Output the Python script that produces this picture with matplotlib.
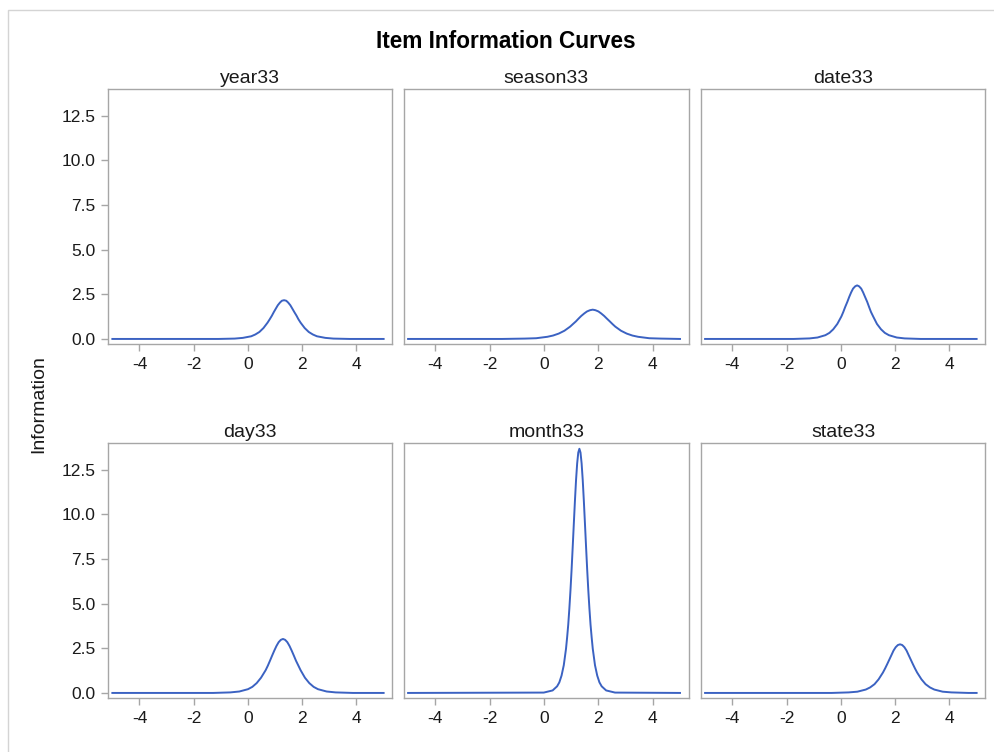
import matplotlib
matplotlib.use("Agg")
import matplotlib.pyplot as plt
from matplotlib.patches import Rectangle

plt.rcParams['font.family'] = ['Liberation Sans', 'DejaVu Sans']

# item information curves
items = ['year33', 'season33', 'date33', 'day33', 'month33', 'state33']

year33_x = [-5, -1.09, -0.49, -0.19, 0.12, 0.27, 0.42, 0.57, 0.72, 0.80, 0.88, 0.95, 1.03,
            1.10, 1.18, 1.25, 1.33, 1.41, 1.48, 1.56, 1.63, 1.71, 1.79, 1.86, 1.94, 2.09,
            2.24, 2.39, 2.54, 2.85, 3.15, 3.75, 5]
year33_y = [0.00, 0.00, 0.02, 0.06, 0.15, 0.25, 0.39, 0.61, 0.91, 1.10, 1.30, 1.50, 1.71,
            1.89, 2.04, 2.14, 2.17, 2.14, 2.04, 1.89, 1.71, 1.50, 1.30, 1.10, 0.91, 0.61,
            0.39, 0.25, 0.15, 0.06, 0.02, 0.00, 0.00]

season33_x = [-5, -1.54, -0.71, -0.29, 0.12, 0.33, 0.54, 0.75, 0.96, 1.06, 1.17, 1.27, 1.37,
              1.48, 1.58, 1.69, 1.79, 1.89, 2.00, 2.10, 2.21, 2.31, 2.42, 2.52, 2.62, 2.83,
              3.04, 3.25, 3.46, 3.87, 4.29, 5]
season33_y = [0.00, 0.00, 0.02, 0.04, 0.12, 0.19, 0.30, 0.46, 0.69, 0.83, 0.98, 1.14, 1.29,
              1.43, 1.54, 1.61, 1.64, 1.61, 1.54, 1.43, 1.29, 1.14, 0.98, 0.83, 0.69, 0.46,
              0.30, 0.19, 0.12, 0.04, 0.02, 0.00]

date33_x = [-5, -1.74, -1.15, -0.86, -0.57, -0.42, -0.28, -0.13, 0.02, 0.09, 0.16, 0.24, 0.31,
            0.38, 0.45, 0.53, 0.60, 0.67, 0.75, 0.82, 0.89, 0.97, 1.04, 1.11, 1.19, 1.33,
            1.48, 1.62, 1.77, 2.06, 2.35, 2.94, 5]
date33_y = [0.00, 0.00, 0.03, 0.08, 0.21, 0.34, 0.54, 0.84, 1.26, 1.51, 1.79, 2.08, 2.36,
            2.61, 2.82, 2.95, 3.00, 2.95, 2.82, 2.61, 2.36, 2.08, 1.79, 1.51, 1.26, 0.84,
            0.54, 0.34, 0.21, 0.08, 0.03, 0.00, 0.00]

day33_x = [-5, -1.29, -0.65, -0.32, 0.00, 0.16, 0.32, 0.48, 0.65, 0.73, 0.81, 0.89, 0.97,
           1.05, 1.13, 1.21, 1.29, 1.37, 1.45, 1.53, 1.61, 1.69, 1.77, 1.86, 1.94, 2.10,
           2.26, 2.42, 2.58, 2.90, 3.23, 3.87, 5]
day33_y = [0.00, 0.00, 0.03, 0.08, 0.21, 0.34, 0.55, 0.85, 1.27, 1.52, 1.80, 2.09, 2.37,
           2.63, 2.84, 2.97, 3.02, 2.97, 2.84, 2.63, 2.37, 2.09, 1.80, 1.52, 1.27, 0.85,
           0.55, 0.34, 0.21, 0.08, 0.03, 0.00, 0.00]

month33_x = [-5, -0.011, 0.316, 0.480, 0.562, 0.644, 0.726, 0.808, 0.849, 0.890, 0.931,
             0.972, 1.013, 1.054, 1.095, 1.136, 1.177, 1.218, 1.259, 1.300, 1.341, 1.382,
             1.423, 1.464, 1.505, 1.546, 1.587, 1.628, 1.669, 1.710, 1.751, 1.792, 1.874,
             1.956, 2.038, 2.120, 2.284, 2.611, 5]
month33_y = [0.00, 0.02, 0.14, 0.37, 0.59, 0.97, 1.55, 2.47, 3.11, 3.82, 4.72,
             5.74, 6.89, 8.16, 9.46, 10.74, 11.91, 12.84, 13.45, 13.66, 13.45, 12.84,
             11.91, 10.74, 9.46, 8.16, 6.89, 5.74, 4.72, 3.82, 3.11, 2.47, 1.55,
             0.97, 0.59, 0.37, 0.14, 0.02, 0.00]

state33_x = [-5, -0.34, 0.29, 0.61, 0.92, 1.08, 1.24, 1.39, 1.55, 1.63, 1.71, 1.79, 1.87,
             1.94, 2.02, 2.10, 2.18, 2.26, 2.34, 2.42, 2.49, 2.57, 2.65, 2.73, 2.81, 2.97,
             3.12, 3.28, 3.44, 3.75, 4.07, 4.70, 5]
state33_y = [0.00, 0.00, 0.03, 0.07, 0.19, 0.31, 0.49, 0.76, 1.14, 1.37, 1.62, 1.88, 2.14,
             2.37, 2.56, 2.68, 2.72, 2.68, 2.56, 2.37, 2.14, 1.88, 1.62, 1.37, 1.14, 0.76,
             0.49, 0.31, 0.19, 0.07, 0.03, 0.00, 0.00]

curves_x = [year33_x, season33_x, date33_x, day33_x, month33_x, state33_x]
curves_y = [year33_y, season33_y, date33_y, day33_y, month33_y, state33_y]

x_ticks = [-4, -2, 0, 2, 4]
y_ticks = [0.0, 2.5, 5.0, 7.5, 10.0, 12.5]

W, H = 995, 752
fig = plt.figure(figsize=(W / 100, H / 100), dpi=100)
fig.patch.set_facecolor('white')

# light outer frame
fig.patches.append(Rectangle((8 / W, -0.05), 1.1, 1 - 10 / H + 0.05, transform=fig.transFigure,
                             fill=False, edgecolor='#d4d4d4', linewidth=1))

cols = [(108.3, 392.3), (404, 688.7), (701, 985.3)]
rows = [(89, 344.3), (442.7, 698.3)]
frame = '#a6a6a6'
blue = '#3b62c2'

for i, name in enumerate(items):
    l, r = cols[i % 3]
    t, b = rows[i // 3]
    ax = fig.add_axes([l / W, 1 - b / H, (r - l) / W, (b - t) / H])
    ax.plot(curves_x[i], curves_y[i], color=blue, linewidth=1.4, solid_joinstyle='round')
    ax.set_xlim(-5.15, 5.32)
    ax.set_ylim(-0.3, 14.0)
    ax.set_xticks(x_ticks)
    ax.set_xticklabels([str(v) for v in x_ticks])
    ax.set_yticks(y_ticks)
    ax.set_yticklabels(['%.1f' % v for v in y_ticks])
    for s in ax.spines.values():
        s.set_color(frame)
        s.set_linewidth(1.0)
    ax.tick_params(axis='both', direction='out', length=5, width=1, color=frame,
                   labelsize=12.5, labelcolor='#1a1a1a', pad=4)
    if i % 3 != 0:
        ax.tick_params(axis='y', left=False, labelleft=False)
    ax.set_title(name, fontsize=14, color='#1a1a1a', pad=4)

fig.text(506 / W, 1 - 42 / H, 'Item Information Curves', ha='center', va='center',
         fontsize=16.3, fontweight='bold', color='black')
fig.text(39 / W, 1 - 404 / H, 'Information', ha='center', va='center', rotation=90,
         fontsize=14, color='#1a1a1a')

fig.savefig('out.png', dpi=100)
